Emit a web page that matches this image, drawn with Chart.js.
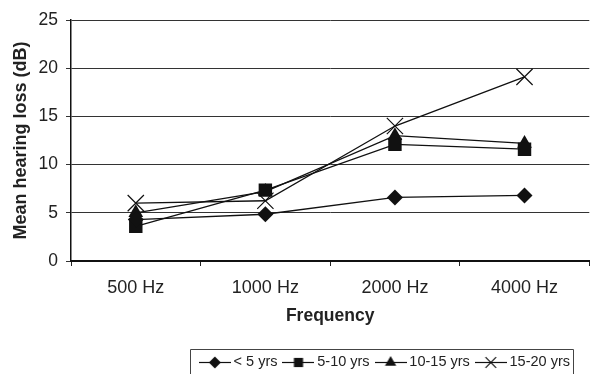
<!DOCTYPE html>
<html><head><meta charset="utf-8">
<script src="https://cdn.jsdelivr.net/npm/chart.js@4/dist/chart.umd.min.js"></script>
<style>html,body{margin:0;padding:0;background:#fff}#wrap{width:602px;height:374px}</style>
</head><body><div id="wrap"><canvas id="c" width="602" height="374"></canvas></div>
<script>
const categories = ['500 Hz', '1000 Hz', '2000 Hz', '4000 Hz'];
const seriesNames = ['< 5 yrs', '5-10 yrs', '10-15 yrs', '15-20 yrs'];
const under5 = [4.3, 4.85, 6.6, 6.8];
const yrs5to10 = [3.6, 7.35, 12.1, 11.6];
const yrs10to15 = [5.0, 7.2, 13.0, 12.2];
const yrs15to20 = [6.0, 6.25, 14.0, 19.1];
const yTicks = [0, 5, 10, 15, 20, 25];

const INK = '#111';
const styles = ['rectRot', 'rect', 'triangle', 'crossRot'];
const radii = [8, 9.5, 8.5, 11.5];
const legendRadii = [6, 6.5, 6.5, 7.5];

const LEG_FONT = 14.5, LEG_PAD = 9.5, LEG_BOX = 23, LEG_OVER = 4.5;

function drawMarker(ctx, style, r, x, y) {
  ctx.beginPath();
  if (style === 'rectRot') {
    ctx.moveTo(x, y - r); ctx.lineTo(x + r, y); ctx.lineTo(x, y + r); ctx.lineTo(x - r, y); ctx.closePath(); ctx.fill();
  } else if (style === 'rect') {
    const s = r * Math.SQRT1_2; ctx.rect(x - s, y - s, 2 * s, 2 * s); ctx.fill();
  } else if (style === 'triangle') {
    ctx.moveTo(x, y - r); ctx.lineTo(x + r * 0.87, y + r * 0.5); ctx.lineTo(x - r * 0.87, y + r * 0.5); ctx.closePath(); ctx.fill();
  } else {
    const d = r * Math.SQRT1_2;
    ctx.moveTo(x - d, y - d); ctx.lineTo(x + d, y + d); ctx.moveTo(x + d, y - d); ctx.lineTo(x - d, y + d); ctx.stroke();
  }
}
function legendImage(i) {
  const w = LEG_BOX + 2 * LEG_OVER;
  const c = document.createElement('canvas');
  c.width = w; c.height = 16;
  const ctx = c.getContext('2d');
  ctx.strokeStyle = INK; ctx.fillStyle = INK; ctx.lineWidth = 1.2;
  ctx.beginPath(); ctx.moveTo(0, 8.5); ctx.lineTo(w, 8.5); ctx.stroke();
  drawMarker(ctx, styles[i], legendRadii[i], w / 2, 8.5);
  return c;
}
const legendImgs = [0, 1, 2, 3].map(legendImage);

const seriesData = [under5, yrs5to10, yrs10to15, yrs15to20];
const datasets = seriesData.map((d, i) => ({
  label: seriesNames[i],
  data: d,
  borderColor: INK,
  backgroundColor: INK,
  borderWidth: 1.3,
  pointStyle: styles[i],
  pointRadius: radii[i],
  pointHoverRadius: radii[i],
  pointBorderWidth: i === 3 ? 1.2 : 0,
  pointBackgroundColor: INK,
  pointBorderColor: INK,
  tension: 0
}));

let legendRowMid = 0;
// shift the legend block (layout only) and frame it
const legendPlace = {
  id: 'legendPlace',
  afterLayout(chart) {
    const L = chart.legend;
    const dx = -16.5, dy = 362 - (L.top + LEG_PAD + LEG_FONT / 2);
    L.left += dx; L.right += dx; L.top += dy; L.bottom += dy;
    if (L.adjustHitBoxes) L.adjustHitBoxes();
    legendRowMid = L.top + LEG_PAD + LEG_FONT / 2;
  },
  afterDraw(chart) {
    const L = chart.legend;
    const boxes = L.legendHitBoxes || [];
    let l, r;
    if (boxes.length) {
      l = Math.min(...boxes.map(b => b.left)) - LEG_OVER - 9;
      r = Math.max(...boxes.map(b => b.left + b.width)) + 3;
    } else { l = L.left; r = L.right; }
    const t = legendRowMid - 13;
    const ctx = chart.ctx;
    ctx.save();
    ctx.strokeStyle = '#444'; ctx.lineWidth = 1;
    ctx.beginPath();
    const x0 = Math.round(l) + 0.5, x1 = Math.round(r) + 0.5, y0 = Math.round(t) + 0.5;
    ctx.moveTo(x0, 374); ctx.lineTo(x0, y0); ctx.lineTo(x1, y0); ctx.lineTo(x1, 374);
    ctx.stroke();
    ctx.restore();
  }
};

new Chart(document.getElementById('c'), {
  type: 'line',
  data: { labels: categories, datasets },
  plugins: [legendPlace],
  options: {
    responsive: false,
    animation: false,
    devicePixelRatio: 1,
    layout: { padding: { top: 20, right: 6, bottom: 9, left: 0 } },
    plugins: {
      tooltip: { enabled: false },
      legend: {
        position: 'bottom',
        align: 'end',
        labels: {
          usePointStyle: true,
          pointStyleWidth: LEG_BOX,
          boxHeight: LEG_FONT,
          padding: LEG_PAD,
          color: '#222',
          font: { family: 'Liberation Sans', size: LEG_FONT },
          generateLabels(chart) {
            return chart.data.datasets.map((ds, i) => ({
              text: ds.label, pointStyle: legendImgs[i], fillStyle: INK, strokeStyle: INK,
              lineWidth: 0, hidden: false, datasetIndex: i, fontColor: '#222'
            }));
          }
        }
      }
    },
    scales: {
      x: {
        offset: true,
        afterFit(s) { s.height = 70; },
        grid: { offset: true, drawOnChartArea: false, drawTicks: true, tickLength: 5, color: '#222', lineWidth: 1 },
        border: { color: '#111', width: 2 },
        ticks: { color: '#222', font: { family: 'Liberation Sans', size: 18 }, padding: 11 },
        title: { display: true, text: 'Frequency', color: '#222', font: { family: 'Liberation Sans', size: 17.5, weight: 'bold' }, padding: { top: 4, bottom: 4 } }
      },
      y: {
        min: 0, max: 25,
        afterFit(s) { s.width = 71; },
        afterBuildTicks(s) { s.ticks = yTicks.map(v => ({ value: v })); },
        grid: { color: '#333', lineWidth: 1, tickLength: 5 },
        border: { color: '#111', width: 1.5 },
        ticks: { color: '#222', font: { family: 'Liberation Sans', size: 17.5 }, padding: 8 },
        title: { display: true, text: 'Mean hearing loss (dB)', color: '#222', font: { family: 'Liberation Sans', size: 18, weight: 'bold' }, padding: { top: 10, bottom: 4 } }
      }
    }
  }
});
</script></body></html>
